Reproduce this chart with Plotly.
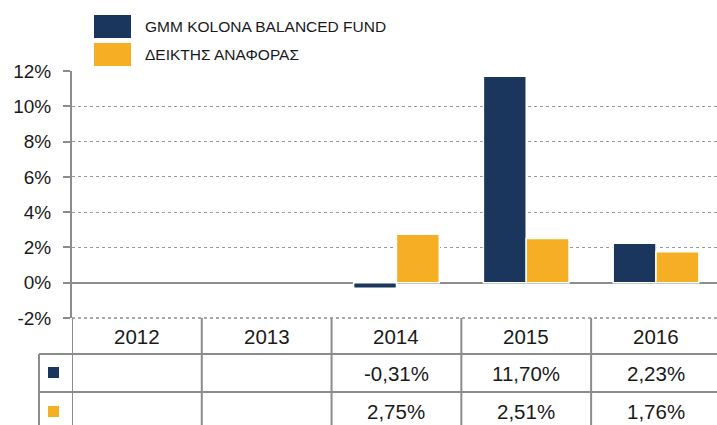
import plotly.graph_objects as go

years = ["2012", "2013", "2014", "2015", "2016"]
fund_name = "GMM KOLONA BALANCED FUND"
bench_name = "ΔΕΙΚΤΗΣ ΑΝΑΦΟΡΑΣ"
fund = [None, None, -0.31, 11.70, 2.23]
bench = [None, None, 2.75, 2.51, 1.76]
yticks = [-2, 0, 2, 4, 6, 8, 10, 12]

NAVY = "#1b365d"
GOLD = "#f6ae24"
GRID = "#9a9a9a"
AXIS = "#8c8c8c"
FONT = "Liberation Sans, Arial, sans-serif"

W, Hh = 717, 425
L, T, B = 72, 71, 318
PH = B - T


def py(p):
    return (B - p) / PH


def px(p):
    return (p - L) / (W - L)


def fmt(v):
    return "" if v is None else ("%.2f%%" % v).replace(".", ",")


fig = go.Figure()
fig.add_trace(go.Bar(x=years, y=fund, name=fund_name, marker_color=NAVY,
                     marker_line=dict(color="white", width=1.5), showlegend=False))
fig.add_trace(go.Bar(x=years, y=bench, name=bench_name, marker_color=GOLD,
                     marker_line=dict(color="white", width=1.5), showlegend=False))

shapes = []
ann = []

# legend (manual, large swatches)
for i, (name, col) in enumerate([(fund_name, NAVY), (bench_name, GOLD)]):
    y0 = 15 + i * 28
    shapes.append(dict(type="rect", xref="paper", yref="paper",
                       x0=px(94), x1=px(131), y0=py(y0), y1=py(y0 + 23),
                       fillcolor=col, line=dict(width=0)))
    ann.append(dict(text=name, xref="paper", yref="paper", x=px(143), y=py(y0 + 11.5),
                    xanchor="left", yanchor="middle", showarrow=False,
                    font=dict(size=15.5, color="#1a1a1a", family=FONT)))

# table lines
line = dict(color=AXIS, width=2)
shapes.append(dict(type="line", xref="paper", yref="paper", x0=0, x1=1,
                   y0=0, y1=0, line=dict(color="#a8a8a8", width=2, dash="dot")))
for yy in (354, 392):
    shapes.append(dict(type="line", xref="paper", yref="paper", x0=px(39), x1=1,
                       y0=py(yy), y1=py(yy), line=line))
shapes.append(dict(type="line", xref="paper", yref="paper", x0=px(39), x1=px(39),
                   y0=py(354), y1=py(430), line=line))
for i in range(len(years)):
    shapes.append(dict(type="line", xref="x", yref="paper", x0=i - 0.5, x1=i - 0.5,
                       y0=py(318), y1=py(430), line=line))

# legend keys in table
for yy, col in ((367, NAVY), (406, GOLD)):
    shapes.append(dict(type="rect", xref="paper", yref="paper",
                       x0=px(48), x1=px(59), y0=py(yy), y1=py(yy + 11),
                       fillcolor=col, line=dict(width=0)))

# table text
for i, yr in enumerate(years):
    ann.append(dict(text=yr, xref="x", yref="paper", x=i, y=py(336),
                    showarrow=False, yanchor="middle",
                    font=dict(size=20.5, color="#1a1a1a", family=FONT)))
    for row, vals in ((373, fund), (411, bench)):
        t = fmt(vals[i])
        if t:
            ann.append(dict(text=t, xref="x", yref="paper", x=i, y=py(row),
                            showarrow=False, yanchor="middle",
                            font=dict(size=20.5, color="#1a1a1a", family=FONT)))

fig.update_layout(
    width=W, height=Hh,
    margin=dict(l=L, r=0, t=T, b=Hh - B, pad=0),
    paper_bgcolor="white", plot_bgcolor="white",
    barmode="group", bargap=0.34, bargroupgap=0.0,
    shapes=shapes, annotations=ann,
    font=dict(family=FONT, color="#1a1a1a"),
)
fig.update_xaxes(type="category", range=[-0.5, 4.47], showticklabels=False,
                 showgrid=False, zeroline=False, showline=False, ticks="")
fig.update_yaxes(range=[-2, 12], tickvals=yticks,
                 ticktext=["%d%%" % v for v in yticks],
                 showgrid=True, gridcolor=GRID, griddash="dot", gridwidth=1.2,
                 zeroline=True, zerolinecolor=AXIS, zerolinewidth=2,
                 showline=True, linecolor=AXIS, linewidth=2,
                 ticks="outside", ticklen=7, tickcolor=AXIS, tickwidth=2,
                 ticklabelstandoff=8,
                 tickfont=dict(size=19, color="#1a1a1a", family=FONT))

fig.write_html("out.html")
